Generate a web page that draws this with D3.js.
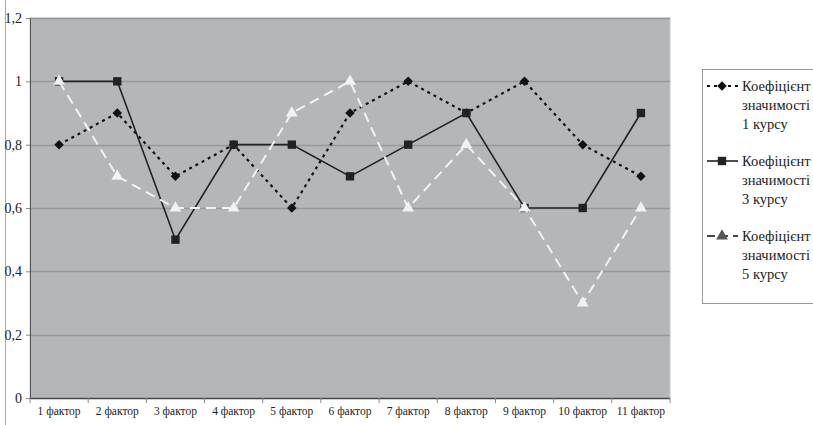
<!DOCTYPE html>
<html>
<head>
<meta charset="utf-8">
<script src="https://cdn.jsdelivr.net/npm/d3@7/dist/d3.min.js"></script>
<style>
  html, body { margin: 0; padding: 0; background: #fff; }
  svg { display: block; }
</style>
</head>
<body>
<svg id="chart" width="813" height="425"></svg>
<script>
const categories = ["1 фактор", "2 фактор", "3 фактор", "4 фактор", "5 фактор", "6 фактор",
  "7 фактор", "8 фактор", "9 фактор", "10 фактор", "11 фактор"];
const course1 = [0.8, 0.9, 0.7, 0.8, 0.6, 0.9, 1.0, 0.9, 1.0, 0.8, 0.7];
const course3 = [1.0, 1.0, 0.5, 0.8, 0.8, 0.7, 0.8, 0.9, 0.6, 0.6, 0.9];
const course5 = [1.0, 0.7, 0.6, 0.6, 0.9, 1.0, 0.6, 0.8, 0.6, 0.3, 0.6];
const yTicks = [0, 0.2, 0.4, 0.6, 0.8, 1, 1.2];
const seriesNames = [
  ["Коефіцієнт", "значимості", "1 курсу"],
  ["Коефіцієнт", "значимості", "3 курсу"],
  ["Коефіцієнт", "значимості", "5 курсу"]
];

const FONT = "'Liberation Serif', 'Times New Roman', serif";

const svg = d3.select("#chart");
const plot = { left: 30, top: 18, right: 670, bottom: 398 };

const x = d3.scaleBand().domain(categories).range([plot.left, plot.right]).padding(0);
const y = d3.scaleLinear().domain([0, 1.2]).range([plot.bottom, plot.top]);

// outer frame line on the left
svg.append("line").attr("x1", 5.5).attr("x2", 5.5).attr("y1", 0).attr("y2", 425)
  .attr("stroke", "#aaa").attr("stroke-width", 1);

// plot background
svg.append("rect")
  .attr("x", plot.left).attr("y", plot.top)
  .attr("width", plot.right - plot.left).attr("height", plot.bottom - plot.top)
  .attr("fill", "#b5b6ba").attr("stroke", "#c9c9cc");

// horizontal gridlines
svg.append("g").selectAll("line").data(yTicks.filter(d => d > 0)).join("line")
  .attr("x1", plot.left).attr("x2", plot.right)
  .attr("y1", d => Math.round(y(d)) + 0.5).attr("y2", d => Math.round(y(d)) + 0.5)
  .attr("stroke", "#97989c").attr("stroke-width", 1.5);

// y axis
const yAxis = d3.axisLeft(y).tickValues(yTicks).tickSize(4).tickPadding(4)
  .tickFormat(d => String(d).replace(".", ","));
const gy = svg.append("g").attr("transform", `translate(${plot.left},0)`).call(yAxis);
gy.attr("font-family", null);
gy.select(".domain").attr("stroke", "#555");
gy.selectAll(".tick line").attr("stroke", "#888");
gy.selectAll(".tick text").style("font-family", FONT).style("font-size", "14px").attr("fill", "#222");

// x axis with ticks at category boundaries
const gx = svg.append("g").attr("transform", `translate(0,${plot.bottom})`);
gx.append("line").attr("x1", plot.left).attr("x2", plot.right).attr("y1", 0.5).attr("y2", 0.5)
  .attr("stroke", "#444").attr("stroke-width", 1.5);
const bounds = categories.map(c => x(c)).concat([plot.right]);
gx.selectAll("line.b").data(bounds).join("line").attr("class", "b")
  .attr("x1", d => d).attr("x2", d => d).attr("y1", 0).attr("y2", 5)
  .attr("stroke", "#888");
gx.selectAll("text").data(categories).join("text")
  .attr("x", d => x(d) + x.bandwidth() / 2).attr("y", 17)
  .attr("text-anchor", "middle").attr("fill", "#222")
  .style("font-family", FONT).style("font-size", "11.5px")
  .text(d => d);

const cx = (d, i) => x(categories[i]) + x.bandwidth() / 2;
const line = d3.line().x(cx).y(d => y(d));

const styles = [
  { data: course1, stroke: "#111", width: 2.2, dash: "3,4", symbol: d3.symbolSquare, rot: 45, size: 45, fill: "#111" },
  { data: course3, stroke: "#222", width: 1.6, dash: null, symbol: d3.symbolSquare, rot: 0, size: 70, fill: "#222" },
  { data: course5, stroke: "#f2f2f2", width: 2, dash: "10,6", symbol: d3.symbolTriangle, rot: 0, size: 60, fill: "#f2f2f2" }
];

styles.forEach(s => {
  svg.append("path").datum(s.data).attr("d", line)
    .attr("fill", "none").attr("stroke", s.stroke).attr("stroke-width", s.width)
    .attr("stroke-dasharray", s.dash);
  svg.append("g").selectAll("path").data(s.data).join("path")
    .attr("d", d3.symbol().type(s.symbol).size(s.size))
    .attr("transform", (d, i) => `translate(${cx(d, i)},${y(d)}) rotate(${s.rot})`)
    .attr("fill", s.fill);
});

// legend
const lg = svg.append("g");
lg.append("rect").attr("x", 702.5).attr("y", 69.5).attr("width", 120).attr("height", 234)
  .attr("fill", "#fff").attr("stroke", "#999");
const legendColors = ["#111", "#222", "#555"];
const legendStart = [91, 166, 241];
styles.forEach((s, k) => {
  const ly = legendStart[k];
  lg.append("line").attr("x1", 707).attr("x2", 738).attr("y1", ly - 5).attr("y2", ly - 5)
    .attr("stroke", k === 2 ? "#444" : s.stroke).attr("stroke-width", s.width)
    .attr("stroke-dasharray", k === 0 ? "3,4" : (k === 2 ? "8,5" : null));
  lg.append("path").attr("d", d3.symbol().type(s.symbol).size(s.size)())
    .attr("transform", `translate(722,${ly - 5}) rotate(${s.rot})`).attr("fill", legendColors[k]);
  seriesNames[k].forEach((t, j) => {
    lg.append("text").attr("x", 742).attr("y", ly + j * 19).attr("fill", "#222")
      .style("font-family", FONT).style("font-size", "14.5px").text(t);
  });
});
</script>
</body>
</html>
